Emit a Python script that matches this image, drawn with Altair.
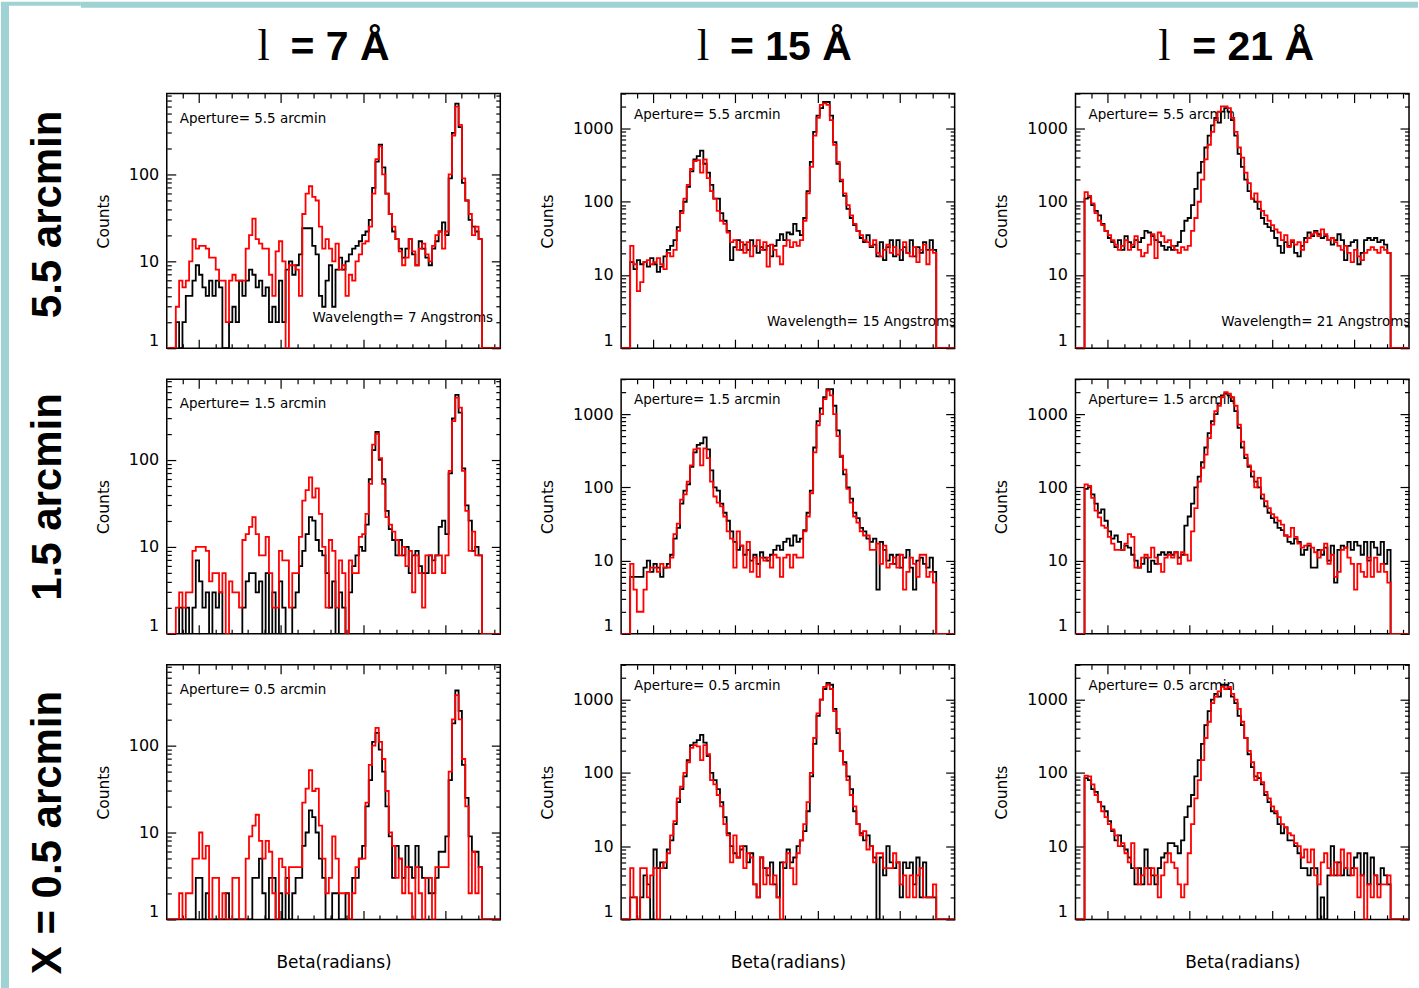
import altair as alt
import pandas as pd

# Beta histograms: 92 bins per panel, counts per bin.
# Rows are apertures (5.5, 1.5, 0.5 arcmin), columns wavelengths (7, 15, 21 A).
# "black" and "red" are the two overplotted runs.

a55_w7_black = [2, 1, 2, 4, 4, 6, 9, 7, 5, 4,
                6, 4, 6, 5, 1, 1, 2, 3, 2, 6,
                4, 6, 8, 7, 5, 6, 4, 5, 2, 3,
                2, 6, 2, 8, 10, 7, 9, 12, 24, 24,
                24, 15, 12, 4, 3, 6, 9, 3, 8, 11,
                8, 10, 12, 14, 15, 17, 20, 22, 30, 70,
                140, 220, 120, 60, 35, 22, 18, 14, 11, 14,
                18, 12, 9, 17, 14, 11, 9, 14, 17, 22,
                28, 20, 90, 300, 650, 350, 80, 50, 30, 25,
                22, 18]
a55_w7_red = [3, 6, 5, 6, 10, 18, 14, 15, 15, 14,
              11, 11, 8, 6, 6, 2, 6, 7, 6, 6,
              6, 14, 20, 31, 18, 16, 14, 14, 7, 4,
              13, 17, 10, 1, 9, 9, 8, 4, 35, 60,
              73, 55, 50, 25, 14, 18, 14, 10, 16, 8,
              9, 4, 7, 6, 10, 12, 16, 17, 25, 60,
              150, 210, 100, 60, 35, 25, 18, 13, 9, 11,
              18, 13, 9, 14, 16, 12, 10, 15, 20, 22,
              14, 22, 100, 280, 600, 370, 90, 50, 35, 20,
              25, 18]

a55_w15_black = [15, 12, 16, 14, 15, 13, 17, 14, 11, 13,
                 18, 22, 25, 30, 45, 75, 100, 160, 260, 380,
                 420, 500, 330, 250, 170, 110, 110, 70, 55, 40,
                 16, 24, 30, 22, 26, 22, 30, 25, 20, 24,
                 22, 25, 18, 25, 30, 36, 30, 38, 36, 50,
                 40, 35, 60, 140, 350, 900, 1500, 1900, 2300, 2300,
                 1500, 650, 330, 190, 120, 80, 60, 48, 40, 32,
                 28, 35, 24, 26, 18, 28, 16, 24, 30, 18,
                 30, 16, 24, 20, 30, 18, 24, 20, 28, 22,
                 30, 22]
a55_w15_red = [25, 14, 6, 8, 15, 16, 14, 15, 17, 14,
               12, 20, 18, 22, 40, 70, 110, 170, 280, 360,
               370, 250, 380, 210, 140, 110, 75, 55, 50, 38,
               28, 30, 22, 28, 20, 28, 18, 25, 30, 22,
               28, 13, 26, 22, 18, 14, 25, 30, 24, 28,
               25, 30, 55, 130, 300, 800, 1400, 2100, 2200, 2100,
               1300, 600, 350, 200, 130, 90, 65, 50, 40, 35,
               30, 28, 25, 30, 20, 18, 22, 26, 20, 24,
               19, 22, 28, 20, 18, 24, 15, 22, 26, 14,
               22, 20]

a55_w21_black = [110, 115, 90, 75, 65, 50, 40, 32, 28, 24,
                 30, 22, 34, 28, 24, 30, 28, 32, 40, 38,
                 34, 30, 28, 25, 22, 24, 22, 25, 28, 40,
                 55, 60, 90, 150, 250, 350, 550, 800, 1100, 1400,
                 1200, 1700, 1900, 1700, 1300, 800, 450, 300, 200, 140,
                 110, 100, 80, 60, 50, 45, 40, 32, 25, 20,
                 28, 25, 28, 20, 18, 25, 32, 38, 34, 40,
                 36, 32, 34, 30, 26, 30, 36, 30, 16, 25,
                 28, 30, 14, 20, 30, 32, 30, 32, 28, 30,
                 26, 20]
a55_w21_red = [135, 120, 95, 70, 55, 48, 40, 35, 30, 26,
               22, 25, 30, 22, 26, 34, 22, 18, 20, 26,
               36, 17, 38, 34, 28, 30, 25, 22, 20, 24,
               22, 25, 40, 60, 100, 200, 380, 600, 900, 1300,
               1700, 2000, 2000, 1900, 1400, 900, 550, 400, 250, 180,
               110, 130, 100, 75, 65, 55, 48, 42, 38, 30,
               35, 24, 30, 26, 28, 22, 28, 32, 36, 38,
               34, 42, 36, 30, 32, 28, 25, 22, 25, 20,
               15, 22, 18, 16, 20, 22, 24, 22, 20, 24,
               22, 20]

a15_w7_black = [1, 2, 1, 2, 1, 2, 7, 4, 2, 3,
                1, 3, 2, 3, 1, 1, 1, 1, 1, 1,
                2, 4, 5, 5, 3, 4, 1, 5, 1, 3,
                1, 4, 2, 1, 1, 2, 3, 6, 9, 14,
                22, 20, 12, 9, 8, 5, 2, 4, 1, 3,
                2, 1, 3, 6, 8, 10, 9, 18, 60, 130,
                210, 100, 60, 26, 16, 12, 8, 12, 8, 10,
                5, 8, 9, 6, 5, 5, 8, 7, 8, 17,
                20, 14, 70, 300, 560, 350, 80, 30, 20, 9,
                10, 8]
a15_w7_red = [2, 3, 2, 3, 3, 9, 10, 10, 10, 9,
              4, 5, 5, 3, 5, 1, 4, 3, 3, 2,
              12, 14, 17, 22, 14, 8, 8, 13, 5, 2,
              2, 9, 7, 7, 2, 5, 5, 13, 34, 45,
              63, 37, 47, 24, 10, 2, 12, 9, 2, 7,
              5, 1, 7, 5, 5, 13, 14, 24, 53, 150,
              200, 105, 53, 22, 18, 15, 12, 8, 10, 6,
              9, 3, 8, 5, 2, 8, 8, 5, 8, 8,
              5, 8, 75, 280, 520, 400, 75, 26, 9, 15,
              8, 8]

a15_w15_black = [6, 6, 6, 6, 8, 10, 7, 9, 8, 6,
                 8, 9, 12, 20, 28, 60, 90, 110, 190, 300,
                 380, 400, 480, 330, 170, 100, 90, 60, 45, 35,
                 25, 18, 14, 16, 12, 14, 10, 12, 9, 13,
                 11, 10, 12, 14, 16, 14, 18, 20, 16, 22,
                 18, 20, 26, 45, 90, 350, 800, 1200, 1700, 2200,
                 2200, 1300, 600, 260, 150, 100, 70, 45, 38, 28,
                 25, 20, 18, 20, 4, 18, 14, 10, 12, 9,
                 12, 8, 11, 14, 8, 4, 10, 11, 9, 8,
                 11, 7]
a15_w15_red = [9, 4, 2, 2, 4, 7, 8, 8, 7, 9,
               8, 8, 11, 23, 32, 68, 80, 120, 200, 330,
               340, 200, 340, 250, 120, 75, 62, 55, 40, 25,
               20, 8, 25, 16, 8, 18, 7, 11, 6, 11,
               10, 11, 8, 12, 11, 6, 11, 12, 8, 12,
               11, 11, 25, 40, 83, 300, 700, 1000, 1600, 2100,
               1800, 1000, 500, 270, 175, 95, 62, 40, 33, 25,
               22, 22, 14, 14, 17, 9, 16, 8, 9, 11,
               8, 12, 4, 7, 11, 9, 6, 12, 12, 6,
               7, 5]

a15_w21_black = [95, 100, 80, 60, 45, 50, 35, 25, 20, 22,
                 18, 14, 16, 15, 12, 10, 8, 9, 11, 7,
                 10, 9, 12, 13, 12, 13, 12, 13, 11, 12,
                 30, 40, 60, 100, 140, 220, 350, 550, 800, 1000,
                 1400, 1800, 1900, 1800, 1500, 1100, 650, 350, 250, 190,
                 140, 120, 100, 70, 55, 45, 38, 33, 28, 26,
                 22, 18, 17, 20, 18, 12, 14, 16, 8, 8,
                 14, 12, 15, 10, 16, 5, 14, 16, 15, 18,
                 14, 18, 16, 12, 18, 10, 18, 15, 12, 18,
                 9, 14]
a15_w21_red = [110, 105, 72, 48, 39, 30, 28, 21, 17, 14,
               14, 14, 17, 23, 21, 8, 8, 11, 12, 11,
               15, 11, 9, 7, 11, 12, 11, 13, 9, 13,
               12, 10, 25, 52, 120, 185, 280, 470, 720, 1100,
               1300, 1700, 2000, 1900, 1700, 1300, 720, 420, 280, 200,
               165, 100, 135, 80, 65, 52, 43, 39, 35, 31,
               22, 21, 28, 21, 17, 15, 16, 17, 15, 13,
               11, 14, 17, 9, 12, 6, 7, 14, 15, 11,
               9, 4, 9, 7, 6, 11, 6, 11, 7, 9,
               7, 5]

a05_w7_black = [1, 1, 1, 1, 1, 1, 3, 3, 1, 2,
                1, 1, 1, 1, 1, 2, 1, 1, 1, 1,
                1, 1, 1, 3, 3, 5, 2, 1, 3, 3,
                1, 2, 1, 3, 1, 2, 3, 3, 7, 10,
                18, 15, 10, 5, 3, 1, 1, 2, 2, 1,
                1, 2, 1, 3, 3, 5, 7, 20, 40, 110,
                140, 90, 50, 20, 9, 3, 7, 5, 3, 7,
                4, 3, 7, 4, 3, 3, 2, 2, 3, 6,
                6, 9, 40, 180, 430, 250, 60, 25, 9, 6,
                6, 4]
a05_w7_red = [1, 2, 1, 2, 2, 5, 5, 10, 5, 7,
              1, 3, 3, 1, 2, 1, 1, 3, 3, 1,
              1, 5, 9, 12, 16, 8, 5, 8, 6, 2,
              1, 5, 4, 2, 4, 4, 4, 4, 22, 32,
              52, 30, 32, 12, 5, 2, 3, 9, 5, 2,
              2, 2, 1, 2, 4, 5, 5, 22, 60, 100,
              160, 110, 70, 30, 10, 7, 3, 5, 2, 4,
              2, 1, 4, 2, 1, 3, 3, 1, 4, 4,
              4, 4, 50, 200, 380, 200, 70, 20, 2, 6,
              2, 4]

a05_w15_black = [2, 2, 1, 2, 4, 3, 1, 9, 5, 6,
                 5, 9, 12, 20, 40, 60, 90, 150, 240, 260,
                 280, 330, 260, 170, 100, 80, 60, 40, 25, 15,
                 10, 8, 7, 9, 10, 6, 8, 3, 2, 7,
                 5, 4, 6, 3, 2, 6, 5, 9, 6, 7,
                 10, 12, 16, 30, 90, 250, 600, 1000, 1400, 1700,
                 1600, 750, 350, 200, 140, 90, 60, 30, 20, 15,
                 12, 14, 10, 7, 1, 7, 4, 10, 6, 5,
                 6, 2, 6, 5, 6, 3, 7, 2, 6, 2,
                 2, 2]
a05_w15_red = [5, 2, 1, 5, 5, 2, 4, 5, 1, 5,
               6, 8, 14, 22, 45, 65, 100, 140, 220, 240,
               230, 150, 240, 180, 80, 70, 50, 35, 20, 14,
               6, 14, 7, 10, 5, 8, 7, 3, 2, 7,
               3, 5, 3, 4, 2, 1, 6, 8, 5, 3,
               8, 12, 20, 40, 100, 300, 650, 1000, 1500, 1600,
               1400, 700, 400, 200, 130, 80, 50, 35, 20, 14,
               16, 9, 10, 6, 8, 8, 5, 5, 5, 8,
               6, 3, 4, 2, 4, 2, 4, 5, 2, 2,
               2, 3]

a05_w21_black = [85, 80, 60, 55, 40, 35, 30, 22, 16, 12,
                 14, 10, 9, 7, 5, 3, 5, 3, 9, 5,
                 4, 3, 5, 7, 8, 11, 11, 10, 8, 12,
                 25, 35, 50, 90, 150, 250, 450, 700, 1000, 1200,
                 1100, 1600, 1600, 1400, 1100, 900, 600, 450, 300, 180,
                 120, 90, 85, 70, 50, 40, 30, 28, 20, 15,
                 18, 12, 12, 10, 8, 5, 5, 4, 5, 5,
                 1, 2, 1, 4, 10, 4, 6, 4, 5, 4,
                 5, 7, 8, 4, 8, 3, 7, 4, 3, 5,
                 4, 3]
a05_w21_red = [92, 90, 70, 50, 40, 30, 25, 20, 17, 14,
               10, 11, 8, 6, 11, 5, 3, 4, 5, 3,
               5, 4, 2, 4, 6, 8, 6, 5, 3, 2,
               3, 8, 20, 45, 80, 150, 300, 500, 900, 1100,
               1300, 1500, 1400, 1500, 1200, 1000, 750, 500, 300, 200,
               140, 80, 100, 75, 55, 45, 35, 30, 25, 20,
               18, 15, 14, 11, 10, 7, 9, 6, 9, 4,
               3, 6, 8, 5, 4, 6, 4, 9, 5, 8,
               4, 5, 2, 4, 1, 3, 2, 4, 2, 3,
               3, 4]

APERTURES = ["5.5", "1.5", "0.5"]
WAVELENGTHS = [7, 15, 21]
ROW_LABELS = ["5.5 arcmin", "1.5 arcmin", "X = 0.5 arcmin"]

SERIES = [
    [(a55_w7_black, a55_w7_red), (a55_w15_black, a55_w15_red), (a55_w21_black, a55_w21_red)],
    [(a15_w7_black, a15_w7_red), (a15_w15_black, a15_w15_red), (a15_w21_black, a15_w21_red)],
    [(a05_w7_black, a05_w7_red), (a05_w15_black, a05_w15_red), (a05_w21_black, a05_w21_red)],
]

# y range of each wavelength column
Y_TOP = [850, 3000, 3000]

# beta binning
BETA_START = -0.28
BIN_WIDTH = 0.0405
BETA_DOMAIN = [-0.39, 3.67]

W, H = 334, 255
IDL_FONT = "DejaVu Sans"
TEAL = "#9fd2d3"
RED = "#ff0000"

MAJOR_Y = "indexof([1, 10, 100, 1000, 10000], datum.value) >= 0"
MAJOR_X = "abs(datum.value - round(datum.value)) < 0.000001"


def step_frame(counts):
    """Histogram outline points: empty level outside the binned range."""
    n = len(counts)
    xs = [BETA_DOMAIN[0] - 0.1] + [BETA_START + i * BIN_WIDTH for i in range(n + 1)] + [BETA_DOMAIN[1] + 0.1]
    ys = [1] + list(counts) + [1, 1]
    return pd.DataFrame({"beta": xs, "counts": ys})


def log_ticks(top):
    vals = []
    for e in range(0, 5):
        for m in range(1, 10):
            v = m * 10 ** e
            if v <= top:
                vals.append(v)
    return vals


X_TICKS = [round(k * 0.2, 6) for k in range(-1, 19)]


def tick_axis(orient, offset, values, major_test):
    return alt.Axis(orient=orient, offset=offset, values=values, labels=False,
                    domain=False, grid=False, title=None, tickColor="black",
                    tickWidth=1.2,
                    tickSize={"condition": {"test": major_test, "value": 9}, "value": 4.5})


def text_layer(text, x, y, **kw):
    return alt.Chart(alt.Data(values=[{}])).mark_text(text=text, **kw).encode(
        x=alt.value(x), y=alt.value(y))


def panel(r, c):
    black, red = SERIES[r][c]
    top = Y_TOP[c]
    xs = alt.Scale(domain=BETA_DOMAIN, nice=False, zero=False)
    ys = alt.Scale(type="log", domain=[1, top], nice=False)
    yvals = log_ticks(top)
    majors = [v for v in [1, 10, 100, 1000] if v <= top]

    if r == 2:
        x_title = dict(title="Beta(radians)", titleFont=IDL_FONT, titleFontSize=17,
                       titleFontWeight="normal", titleColor="black", titlePadding=35)
    else:
        x_title = dict(title=None)

    x_main = alt.Axis(orient="bottom", labels=False, ticks=False, domain=False,
                      grid=False, **x_title)
    y_main = alt.Axis(orient="left", values=majors, format="d", ticks=False,
                      domain=False, grid=False, labelFont=IDL_FONT, labelFontSize=16,
                      labelColor="black", labelPadding=8, labelFlush=True,
                      title="Counts", titleFont=IDL_FONT, titleFontSize=15.5,
                      titleFontWeight="normal", titleColor="black", titlePadding=17)

    black_line = alt.Chart(step_frame(black)).mark_line(
        interpolate="step-after", color="black", strokeWidth=1.8, clip=True
    ).encode(
        x=alt.X("beta:Q", scale=xs, axis=x_main),
        y=alt.Y("counts:Q", scale=ys, axis=y_main),
    )
    red_line = alt.Chart(step_frame(red)).mark_line(
        interpolate="step-after", color=RED, strokeWidth=1.8, clip=True
    ).encode(
        x=alt.X("beta:Q", scale=xs, axis=tick_axis("top", -H, X_TICKS, MAJOR_X)),
        y=alt.Y("counts:Q", scale=ys, axis=tick_axis("right", -W, yvals, MAJOR_Y)),
    )
    ghost = alt.Chart(step_frame(red)).mark_line(opacity=0, clip=True).encode(
        x=alt.X("beta:Q", scale=xs, axis=tick_axis("bottom", -H, X_TICKS, MAJOR_X)),
        y=alt.Y("counts:Q", scale=ys, axis=tick_axis("left", -W, yvals, MAJOR_Y)),
    )

    layers = []
    ap_y = 25 if c == 0 else 21
    layers.append(text_layer(f"Aperture= {APERTURES[r]} arcmin", 13, ap_y,
                             align="left", baseline="middle", font=IDL_FONT,
                             fontSize=13.5, color="black"))
    if r == 0:
        wl_y = 225 if c == 0 else 229
        layers.append(text_layer(f"Wavelength= {WAVELENGTHS[c]} Angstroms", 146, wl_y,
                                 align="left", baseline="middle", font=IDL_FONT,
                                 fontSize=13.5, color="black", clip=True))
        # column header
        l_x = [97, 82, 89][c]
        eq_x = [124, 109, 117][c]
        layers.append(text_layer("l", l_x, -34, align="center", baseline="alphabetic",
                                 font="Liberation Serif", fontSize=44, color="black"))
        layers.append(text_layer(f"= {WAVELENGTHS[c]} Å", eq_x, -34, align="left",
                                 baseline="alphabetic", font="Liberation Sans",
                                 fontSize=41, fontWeight="bold", color="black"))
    if c == 0:
        row_y = [121, 118, 168][r]
        layers.append(text_layer(ROW_LABELS[r], -119, row_y, align="center",
                                 baseline="middle", angle=270, font="Liberation Sans",
                                 fontSize=42, fontWeight="bold", color="black"))
    if r == 0 and c == 0:
        # slide border strips
        border = alt.Data(values=[{}])
        for x0, x1, y0, y1 in [(-166, -158, -92, 896), (-158, -86, -92, -88), (-86, 1253, -92, -86)]:
            layers.insert(0, alt.Chart(border).mark_rect(color=TEAL).encode(
                x=alt.value(x0), x2=alt.value(x1), y=alt.value(y0), y2=alt.value(y1)))

    layers += [black_line, red_line, ghost]
    return alt.layer(*layers).resolve_axis(x="independent", y="independent").properties(
        width=W, height=H)


panels = [panel(r, c) for r in range(3) for c in range(3)]

chart = alt.concat(
    *panels, columns=3, spacing={"row": 31, "column": 121}, bounds="flush"
).properties(
    padding=0, background="white"
).configure_view(
    stroke="black", strokeWidth=1.5
)

chart.save("out.html", embed_options={"renderer": "svg", "actions": False})
